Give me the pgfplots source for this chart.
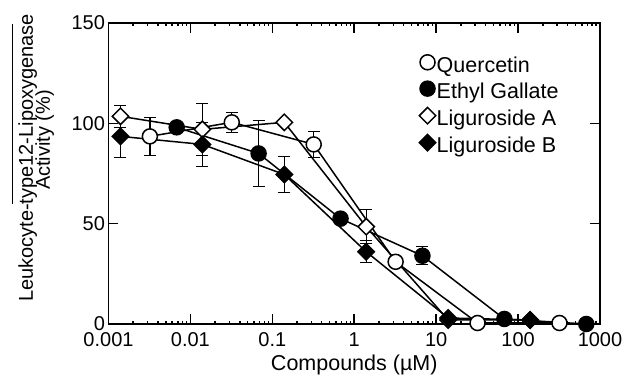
\documentclass[border=0pt]{standalone}
\usepackage{fontspec}
\setmainfont{Liberation Sans}
\usepackage{pgfplots}
\pgfplotsset{compat=1.18}
\begin{document}
\begin{tikzpicture}
\begin{semilogxaxis}[
  scale only axis,
  width=491.5pt, height=301pt,
  xmin=0.001, xmax=1000,
  ymin=0, ymax=150,
  xtick={0.001,0.01,0.1,1,10,100,1000},
  xticklabels={0.001,0.01,0.1,1,10,100,1000},
  minor xtick={},
  ytick={0,50,100,150},
  /pgf/number format/assume math mode=true,
  tick align=inside,
  major tick length=10pt,
  axis line style={line width=1.6pt},
  every tick/.style={line width=1.6pt, black},
  tick label style={font=\fontsize{20}{20}\selectfont},
  xticklabel style={yshift=-5pt},
  label style={font=\fontsize{21.5}{21.5}\selectfont},
  xlabel={Compounds (µM)},
  xlabel style={at={(axis description cs:0.5,-0.137)}, anchor=center},
  legend style={at={(axis description cs:0.632,0.895)}, anchor=north west, draw=none, fill=none,
    font=\fontsize{21.5}{21.5}\selectfont, row sep=3.7pt, inner sep=0pt,
    nodes={text height=14pt, text depth=4pt, inner sep=1pt}},
  legend cell align=left,
  legend image code/.code={\draw[#1] plot[only marks] coordinates {(0.18cm,0.18cm)};},
  error bars/y dir=both, error bars/y explicit,
  error bars/error bar style={line width=1.3pt, black},
  error bars/error mark options={rotate=90, mark size=6pt, line width=1.3pt, black},
]
\addplot[black, line width=1.5pt, mark=*, mark size=7.5pt, mark options={fill=white, line width=1.5pt}]
 coordinates {(0.0032,93.5) +- (0,9.5) (0.032,100.5) +- (0,5) (0.32,89.5) +- (0,6.5) (3.2,31) +- (0,2) (32,0.5) +- (0,0) (320,0.5) +- (0,0)};
\addlegendentry{Quercetin}
\addplot[black, line width=1.5pt, mark=*, mark size=7.5pt, mark options={fill=black, line width=1.5pt}]
 coordinates {(0.0068,98) +- (0,2) (0.068,85) +- (0,16.5) (0.68,52.5) +- (0,2) (6.8,34) +- (0,4.5) (68,2.5) +- (0,1) (680,0) +- (0,1)};
\addlegendentry{Ethyl Gallate}
\addplot[black, line width=1.5pt, mark=square*, mark size=5.8pt, mark options={rotate=45, fill=white, line width=1.5pt}]
 coordinates {(0.0014,103.5) +- (0,5.5) (0.014,97) +- (0,13) (0.14,100.5) +- (0,0) (1.4,48.5) +- (0,8.5) (14,2) +- (0,0) (140,2) +- (0,0)};
\addlegendentry{Liguroside A}
\addplot[black, line width=1.5pt, mark=square*, mark size=5.8pt, mark options={rotate=45, fill=black, line width=1.5pt}]
 coordinates {(0.0014,93.5) +- (0,10.5) (0.014,89.5) +- (0,11) (0.14,74.5) +- (0,9) (1.4,36) +- (0,5.5) (14,3) +- (0,1) (140,2) +- (0,1)};
\addlegendentry{Liguroside B}
\end{semilogxaxis}
\node[rotate=90, anchor=base, font=\fontsize{20}{20}\selectfont] at ([shift={(-75.5pt,166pt)}]current axis.south west)
  {Leukocyte-\rlap{\smash{\rule[20pt]{180pt}{1.3pt}}}type12-Lipoxygenase};
\node[rotate=90, anchor=base, font=\fontsize{20}{20}\selectfont] at ([shift={(-58.5pt,184pt)}]current axis.south west) {Activity (\%)};
\pgfresetboundingbox
\path[use as bounding box] (current axis.south west) ++(-108.5pt,-51pt) rectangle ++(627pt,375pt);
\end{tikzpicture}
\end{document}
